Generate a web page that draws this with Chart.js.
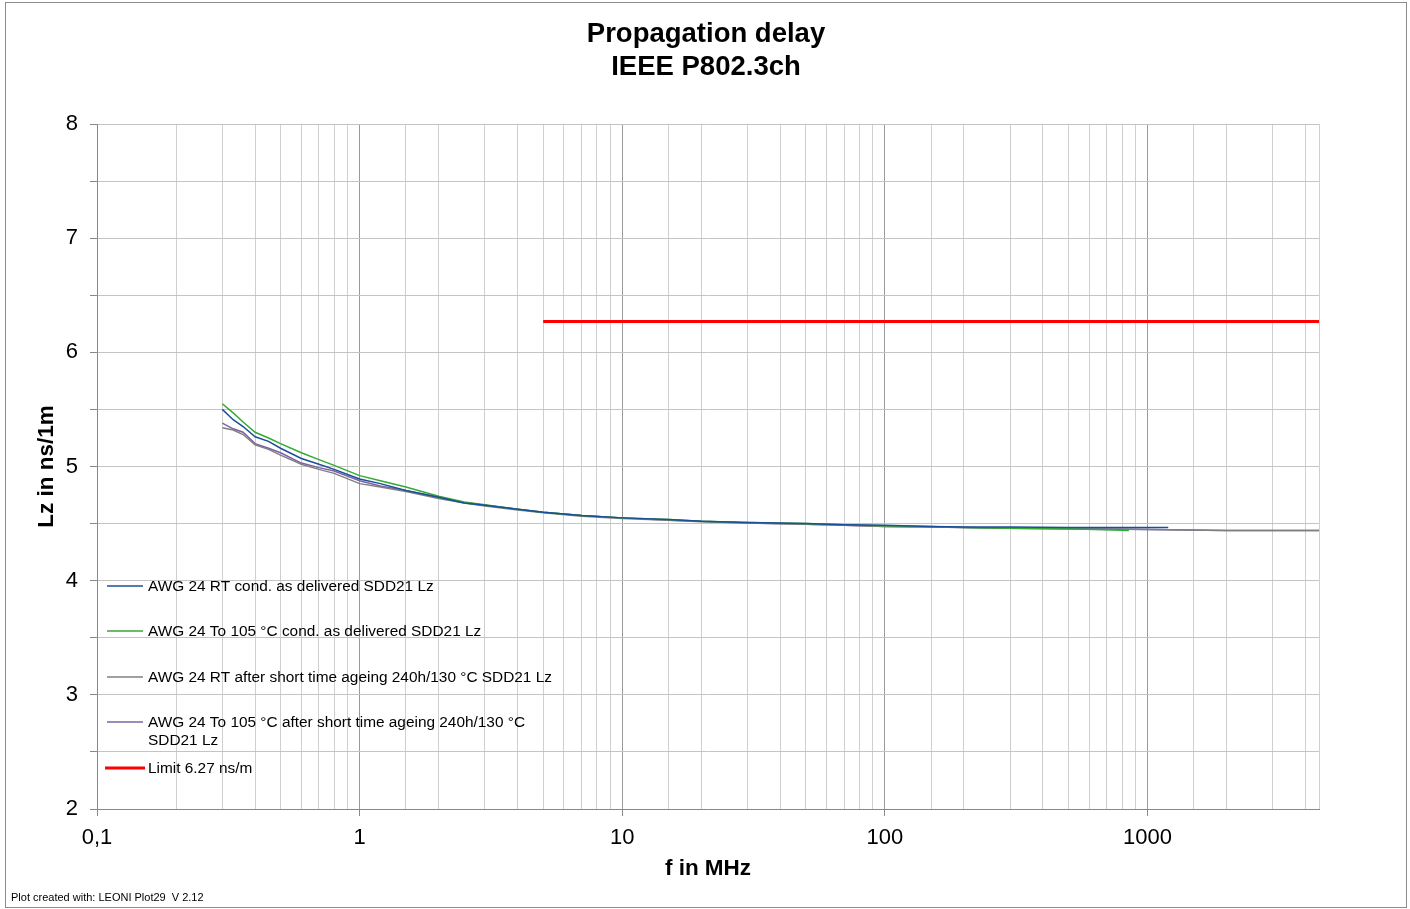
<!DOCTYPE html>
<html>
<head>
<meta charset="utf-8">
<script src="https://cdn.jsdelivr.net/npm/chart.js@4.4.1/dist/chart.umd.min.js"></script>
<style>
  html, body { margin: 0; padding: 0; background: #fff; }
  #chart { display: block; }
</style>
</head>
<body>
<canvas id="chart" width="1410" height="909"></canvas>
<script>
// Propagation delay - IEEE P802.3ch

const freqMHz = [0.3, 0.33, 0.36, 0.4, 0.45, 0.5, 0.6, 0.7, 0.8, 1, 1.2, 1.5, 2, 2.5, 3, 4, 5, 7, 10,
                 15, 20, 30, 50, 70, 100, 150, 200, 300, 500, 850, 1200, 2000, 3000, 4500];

const rtDelivered = [5.50, 5.41, 5.35, 5.26, 5.22, 5.16, 5.07, 5.02, 4.975, 4.89, 4.85, 4.79, 4.73, 4.68, 4.66, 4.625, 4.60, 4.57, 4.55,
                     4.535, 4.52, 4.51, 4.50, 4.49, 4.485, 4.475, 4.47, 4.47, 4.465, 4.465, 4.465, null, null, null];
const hotDelivered = [5.55, 5.47, 5.39, 5.30, 5.25, 5.20, 5.12, 5.06, 5.01, 4.92, 4.875, 4.82, 4.74, 4.69, 4.665, 4.625, 4.60, 4.57, 4.55,
                      4.535, 4.52, 4.51, 4.50, 4.49, 4.48, 4.475, 4.465, 4.46, 4.455, 4.44, null, null, null, null];
const rtAged = [5.34, 5.32, 5.28, 5.19, 5.15, 5.10, 5.02, 4.975, 4.94, 4.85, 4.82, 4.78, 4.72, 4.68, 4.655, 4.62, 4.595, 4.565, 4.545,
                4.53, 4.515, 4.505, 4.495, 4.485, 4.475, 4.47, 4.465, 4.46, 4.455, 4.45, 4.445, 4.44, 4.44, 4.44];
const hotAged = [5.38, 5.33, 5.30, 5.20, 5.16, 5.12, 5.03, 4.99, 4.96, 4.875, 4.83, 4.79, 4.73, 4.685, 4.66, 4.625, 4.60, 4.57, 4.55,
                 4.53, 4.52, 4.505, 4.495, 4.485, 4.475, 4.47, 4.465, 4.46, 4.455, 4.45, 4.445, 4.44, 4.44, 4.44];

const limitFreq = [5, 4500];
const limitValue = [6.27, 6.27];

const seriesNames = [
    'AWG 24 RT cond. as delivered SDD21 Lz',
    'AWG 24 To 105 °C cond. as delivered SDD21 Lz',
    'AWG 24 RT after short time ageing 240h/130 °C SDD21 Lz',
    'AWG 24 To 105 °C after short time ageing 240h/130 °C\nSDD21 Lz',
    'Limit 6.27 ns/m'
];
const seriesColors = ['#1b4f9a', '#33aa33', '#808080', '#7f60a8', '#ff0000'];

const yTicks = [2, 3, 4, 5, 6, 7, 8];
const xDecades = [0.1, 1, 10, 100, 1000];

function toPoints(xs, ys) {
    return xs.map((x, i) => ({ x: x, y: ys[i] }));
}

function isDecade(v) {
    const l = Math.log10(v);
    return Math.abs(l - Math.round(l)) < 1e-6;
}

const FONT = '"Liberation Sans", Arial, sans-serif';

// titles, legend, footer and frame
const decorPlugin = {
    id: 'decor',
    afterDraw(chart) {
        const ctx = chart.ctx;
        const area = chart.chartArea;
        ctx.save();

        // outer frame
        ctx.strokeStyle = '#8c8c8c';
        ctx.lineWidth = 1;
        ctx.strokeRect(5.5, 2.5, 1401, 905);

        ctx.fillStyle = '#000';
        ctx.textAlign = 'center';
        ctx.textBaseline = 'middle';
        ctx.font = 'bold 27.5px ' + FONT;
        ctx.fillText('Propagation delay', 706, 34);
        ctx.fillText('IEEE P802.3ch', 706, 67);

        ctx.font = 'bold 22.5px ' + FONT;
        ctx.fillText('f in MHz', (area.left + area.right) / 2, 869);

        ctx.save();
        ctx.translate(47, (area.top + area.bottom) / 2);
        ctx.rotate(-Math.PI / 2);
        ctx.fillText('Lz in ns/1m', 0, 0);
        ctx.restore();

        // legend inside plot area
        ctx.font = '15.4px ' + FONT;
        ctx.textAlign = 'left';
        const rows = [586, 631, 677, 722, 768];
        seriesNames.forEach((name, i) => {
            const y = rows[i];
            ctx.strokeStyle = seriesColors[i];
            ctx.lineWidth = i === 4 ? 3 : 1.5;
            ctx.beginPath();
            ctx.moveTo(i === 4 ? 105 : 107, y);
            ctx.lineTo(i === 4 ? 145 : 143, y);
            ctx.stroke();
            name.split('\n').forEach((line, j) => {
                ctx.fillText(line, 148, y + 1 + j * 18);
            });
        });

        // footer
        ctx.font = '11px ' + FONT;
        ctx.fillText('Plot created with: LEONI Plot29  V 2.12', 11, 898);

        ctx.restore();
    }
};

const ctx = document.getElementById('chart').getContext('2d');

const chart = new Chart(ctx, {
    type: 'line',
    data: {
        datasets: [
            { label: seriesNames[0], data: toPoints(freqMHz, rtDelivered), borderColor: seriesColors[0], borderWidth: 1.5 },
            { label: seriesNames[1], data: toPoints(freqMHz, hotDelivered), borderColor: seriesColors[1], borderWidth: 1.5 },
            { label: seriesNames[2], data: toPoints(freqMHz, rtAged), borderColor: seriesColors[2], borderWidth: 1.5 },
            { label: seriesNames[3], data: toPoints(freqMHz, hotAged), borderColor: seriesColors[3], borderWidth: 1.5 },
            { label: seriesNames[4], data: toPoints(limitFreq, limitValue), borderColor: seriesColors[4], borderWidth: 3 }
        ]
    },
    options: {
        responsive: false,
        animation: false,
        elements: {
            point: { radius: 0, hoverRadius: 0 },
            line: { tension: 0, fill: false }
        },
        layout: { padding: { left: 0, top: 124, right: 91, bottom: 0 } },
        plugins: {
            legend: { display: false },
            title: { display: false },
            tooltip: { enabled: false }
        },
        scales: {
            x: {
                type: 'logarithmic',
                min: 0.1,
                max: 4500,
                afterFit(scale) { scale.height = 100; },
                border: { color: '#888888', width: 1 },
                grid: {
                    color: c => (c.tick && isDecade(c.tick.value)) ? '#9a9a9a' : '#cfcfcf',
                    tickColor: c => (c.tick && isDecade(c.tick.value)) ? '#888888' : 'rgba(0,0,0,0)',
                    tickLength: 7,
                    lineWidth: 1
                },
                ticks: {
                    autoSkip: false,
                    maxRotation: 0,
                    padding: 9,
                    color: '#000',
                    font: { family: FONT, size: 22 },
                    callback: v => xDecades.some(d => Math.abs(d - v) < 1e-9) ? String(v).replace('.', ',') : ''
                }
            },
            y: {
                min: 2,
                max: 8,
                afterFit(scale) { scale.width = 97; },
                border: { color: '#888888', width: 1 },
                grid: {
                    color: '#c4c4c4',
                    tickColor: '#888888',
                    tickLength: 7,
                    lineWidth: 1
                },
                ticks: {
                    stepSize: 0.5,
                    padding: 12,
                    color: '#000',
                    font: { family: FONT, size: 22 },
                    callback: v => yTicks.includes(v) ? String(v) : ''
                }
            }
        }
    },
    plugins: [decorPlugin]
});
</script>
</body>
</html>
